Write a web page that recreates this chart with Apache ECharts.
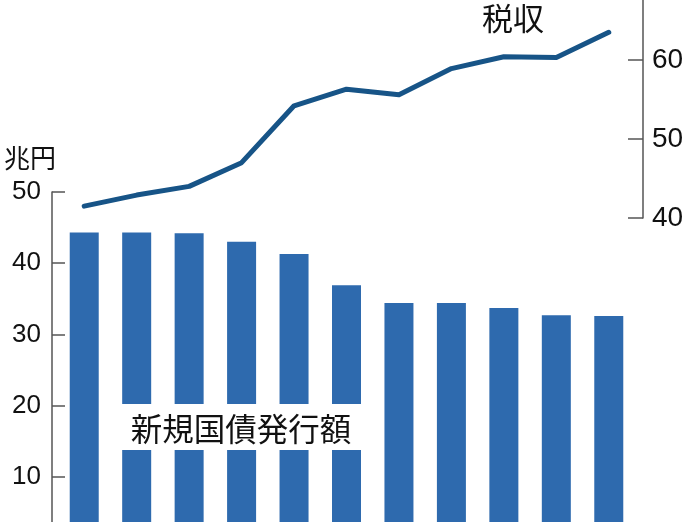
<!DOCTYPE html>
<html><head><meta charset="utf-8">
<script src="https://cdn.jsdelivr.net/npm/echarts@6/dist/echarts.min.js"></script>
<style>html,body{margin:0;padding:0;background:#fff}#c{width:696px;height:522px}</style>
</head><body><div id="c"></div>
<script>
const years = ['2010','2011','2012','2013','2014','2015','2016','2017','2018','2019','2020'];
const issuance = [44.3, 44.3, 44.2, 43.0, 41.3, 36.9, 34.4, 34.4, 33.7, 32.7, 32.6];
const taxRevenue = [41.5, 42.9, 44.0, 47.0, 54.2, 56.3, 55.6, 58.9, 60.4, 60.3, 63.5];
const leftTicks = [0, 10, 20, 30, 40, 50];
const rightTicks = [40, 50, 60];
const unitLabel = '兆円';
const barLabel = '新規国債発行額';
const lineLabel = '税収';

const numFont = '"Liberation Sans", Arial, sans-serif';
const cjkFont = '"Noto Sans CJK JP", sans-serif';
const axisGray = '#555555';

const chart = echarts.init(document.getElementById('c'), null, {renderer: 'canvas'});
chart.setOption({
  animation: false,
  backgroundColor: '#ffffff',
  grid: [
    {left: 58, right: 61, top: 192, height: 356, outerBoundsMode: 'none', containLabel: false},
    {left: 58, right: 61, top: 0, height: 218, outerBoundsMode: 'none', containLabel: false}
  ],
  xAxis: [
    {type: 'category', gridIndex: 0, data: years, show: false},
    {type: 'category', gridIndex: 1, data: years, show: false}
  ],
  yAxis: [
    {
      type: 'value', gridIndex: 0, min: 0, max: 50, interval: 10, position: 'left', offset: 6,
      splitLine: {show: false},
      axisLine: {show: true, lineStyle: {color: axisGray, width: 1.5}},
      axisTick: {show: true, inside: true, length: 13, lineStyle: {color: axisGray, width: 1.5}, customValues: leftTicks},
      axisLabel: {color: '#111', fontSize: 26, fontFamily: numFont, margin: 11, customValues: leftTicks.filter(v => v > 0)}
    },
    {
      type: 'value', gridIndex: 1, min: 40, max: 67.58, interval: 10, position: 'right', offset: 8,
      splitLine: {show: false},
      axisLine: {show: true, lineStyle: {color: axisGray, width: 1.5}},
      axisTick: {show: true, inside: true, length: 15, lineStyle: {color: axisGray, width: 1.5}, customValues: rightTicks},
      axisLabel: {color: '#111', fontSize: 28, fontFamily: numFont, margin: 9, customValues: rightTicks}
    }
  ],
  series: [
    {
      type: 'bar', xAxisIndex: 0, yAxisIndex: 0, data: issuance, barWidth: 29,
      itemStyle: {color: '#2e6aae'}, z: 2
    },
    {
      type: 'line', xAxisIndex: 1, yAxisIndex: 1, data: taxRevenue, symbol: 'none',
      lineStyle: {color: '#175487', width: 5, join: 'round', cap: 'round'}, z: 3
    }
  ],
  graphic: [
    {type: 'rect', z: 100, shape: {x: 112, y: 404, width: 258, height: 46}, style: {fill: '#ffffff'}},
    {type: 'text', z: 101, style: {text: barLabel, x: 241, y: 429, font: '31.5px ' + cjkFont, fill: '#111', align: 'center', verticalAlign: 'middle'}},
    {type: 'text', z: 101, style: {text: unitLabel, x: 4, y: 158, font: '26px ' + cjkFont, fill: '#111', align: 'left', verticalAlign: 'middle'}},
    {type: 'text', z: 101, style: {text: lineLabel, x: 513, y: 18, font: '31px ' + cjkFont, fill: '#111', align: 'center', verticalAlign: 'middle'}}
  ]
});
</script>
</body></html>
